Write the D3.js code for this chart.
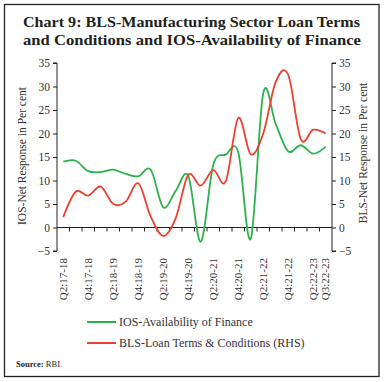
<!DOCTYPE html>
<html><head><meta charset="utf-8">
<script src="https://cdn.jsdelivr.net/npm/d3@7"></script>
<style>body{margin:0;background:#fff}svg{display:block}</style>
</head><body>
<script>
const categories = ["Q2:17-18","Q3:17-18","Q4:17-18","Q1:18-19","Q2:18-19","Q3:18-19","Q4:18-19","Q1:19-20","Q2:19-20","Q3:19-20","Q4:19-20","Q1:20-21","Q2:20-21","Q3:20-21","Q4:20-21","Q1:21-22","Q2:21-22","Q3:21-22","Q4:21-22","Q1:22-23","Q2:22-23","Q3:22-23"];
const iosAvailability = [14.0,14.2,12.0,11.8,12.3,11.4,10.9,12.3,4.3,7.8,11.0,-3.0,13.3,15.5,16.0,-2.4,28.6,22.0,16.2,17.5,15.7,17.2];
const blsLoanTerms = [2.2,7.6,6.8,8.7,5.0,5.5,9.4,2.3,-1.8,2.0,11.2,8.9,12.2,9.8,23.3,15.6,20.0,31.0,32.5,18.8,20.8,20.0];
const shownLabels = ["Q2:17-18","Q4:17-18","Q2:18-19","Q4:18-19","Q2:19-20","Q4:19-20","Q2:20-21","Q4:20-21","Q2:21-22","Q4:21-22","Q2:22-23","Q3:22-23"];
const yTicks = [-5,0,5,10,15,20,25,30,35];
const seriesNames = ["IOS-Availability of Finance","BLS-Loan Terms & Conditions (RHS)"];
const colors = ["#2bb24c","#ec4030"];

const W=384,H=382;
const svg=d3.select("body").append("svg").attr("width",W).attr("height",H)
  .style("font-family","'Liberation Serif','DejaVu Serif',serif");
svg.append("rect").attr("x",4.5).attr("y",4.5).attr("width",374.5).attr("height",372)
  .attr("fill","none").attr("stroke","#222").attr("stroke-width",1.3);

// title
const title=svg.append("g").attr("font-weight","bold").attr("font-size",15.5).attr("fill","#231f20").attr("text-anchor","start");
title.append("text").attr("x",23).attr("y",27).attr("textLength",337).attr("lengthAdjust","spacingAndGlyphs").text("Chart 9: BLS-Manufacturing Sector Loan Terms");
title.append("text").attr("x",23).attr("y",45).attr("textLength",338).attr("lengthAdjust","spacingAndGlyphs").text("and Conditions and IOS-Availability of Finance");

const L=57,R=332,T=63,B=251;
const x=d3.scaleBand().domain(categories).range([L,R]);
const y=d3.scaleLinear().domain([-5,35]).range([B,T]);
const y2=d3.scaleLinear().domain([-5,35]).range([B,T]);

const axL=svg.append("g").attr("transform",`translate(${L},0)`)
  .call(d3.axisLeft(y).tickValues(yTicks).tickSize(4).tickPadding(3));
const axR=svg.append("g").attr("transform",`translate(${R},0)`)
  .call(d3.axisRight(y2).tickValues(yTicks).tickSize(4).tickPadding(3));
[axL,axR].forEach(a=>{a.selectAll("path").attr("d",a===axL?`M-4,${T}H0V${B}H-4`:`M4,${T}H0V${B}H4`).attr("stroke","#222");
  a.selectAll("line").attr("stroke","#222");
  a.selectAll("text").attr("font-size",11.5).attr("fill","#333").attr("font-family","'Liberation Serif',serif");});

// zero axis with category boundary ticks
const zeroY=y(0);
const xa=svg.append("g");
xa.append("line").attr("x1",L).attr("x2",R).attr("y1",zeroY).attr("y2",zeroY).attr("stroke","#222");
categories.forEach((c,i)=>{ if(i>0){const xx=x(c); xa.append("line").attr("x1",xx).attr("x2",xx).attr("y1",zeroY).attr("y2",zeroY+4).attr("stroke","#222");}});

// x labels
svg.append("g").selectAll("text").data(shownLabels).join("text")
  .attr("transform",d=>`translate(${x(d)+x.bandwidth()/2+3.5},258) rotate(-90)`)
  .attr("text-anchor","end").attr("font-size",11).attr("fill","#333").text(d=>d);

// axis titles
svg.append("text").attr("transform",`translate(26,156) rotate(-90)`).attr("text-anchor","middle")
  .attr("font-size",11.5).attr("fill","#333").text("IOS-Net Response in Per cent");
svg.append("text").attr("transform",`translate(367,153) rotate(-90)`).attr("text-anchor","middle")
  .attr("font-size",11.5).attr("fill","#333").text("BLS-Net Response in Per cent");

// lines
const cx=d=>x(d)+x.bandwidth()/2;
const line1=d3.line().x((d,i)=>cx(categories[i])).y(d=>y(d)).curve(d3.curveCardinal.tension(0));
const line2=d3.line().x((d,i)=>cx(categories[i])).y(d=>y2(d)).curve(d3.curveCardinal.tension(0));
svg.append("path").attr("d",line1(iosAvailability)).attr("fill","none").attr("stroke",colors[0]).attr("stroke-width",1.8);
svg.append("path").attr("d",line2(blsLoanTerms)).attr("fill","none").attr("stroke",colors[1]).attr("stroke-width",1.8);

// legend
const lg=svg.append("g");
[0,1].forEach(i=>{
  const ly=322+i*21;
  lg.append("line").attr("x1",87).attr("x2",116).attr("y1",ly).attr("y2",ly).attr("stroke",colors[i]).attr("stroke-width",2);
  lg.append("text").attr("x",119).attr("y",ly+4).attr("font-size",12).attr("fill","#333").text(seriesNames[i]);
});

// source
const src=svg.append("text").attr("x",16).attr("y",367).attr("font-size",8.5).attr("fill","#231f20");
src.append("tspan").attr("font-weight","bold").text("Source: ");
src.append("tspan").text("RBI.");
</script>
</body></html>
